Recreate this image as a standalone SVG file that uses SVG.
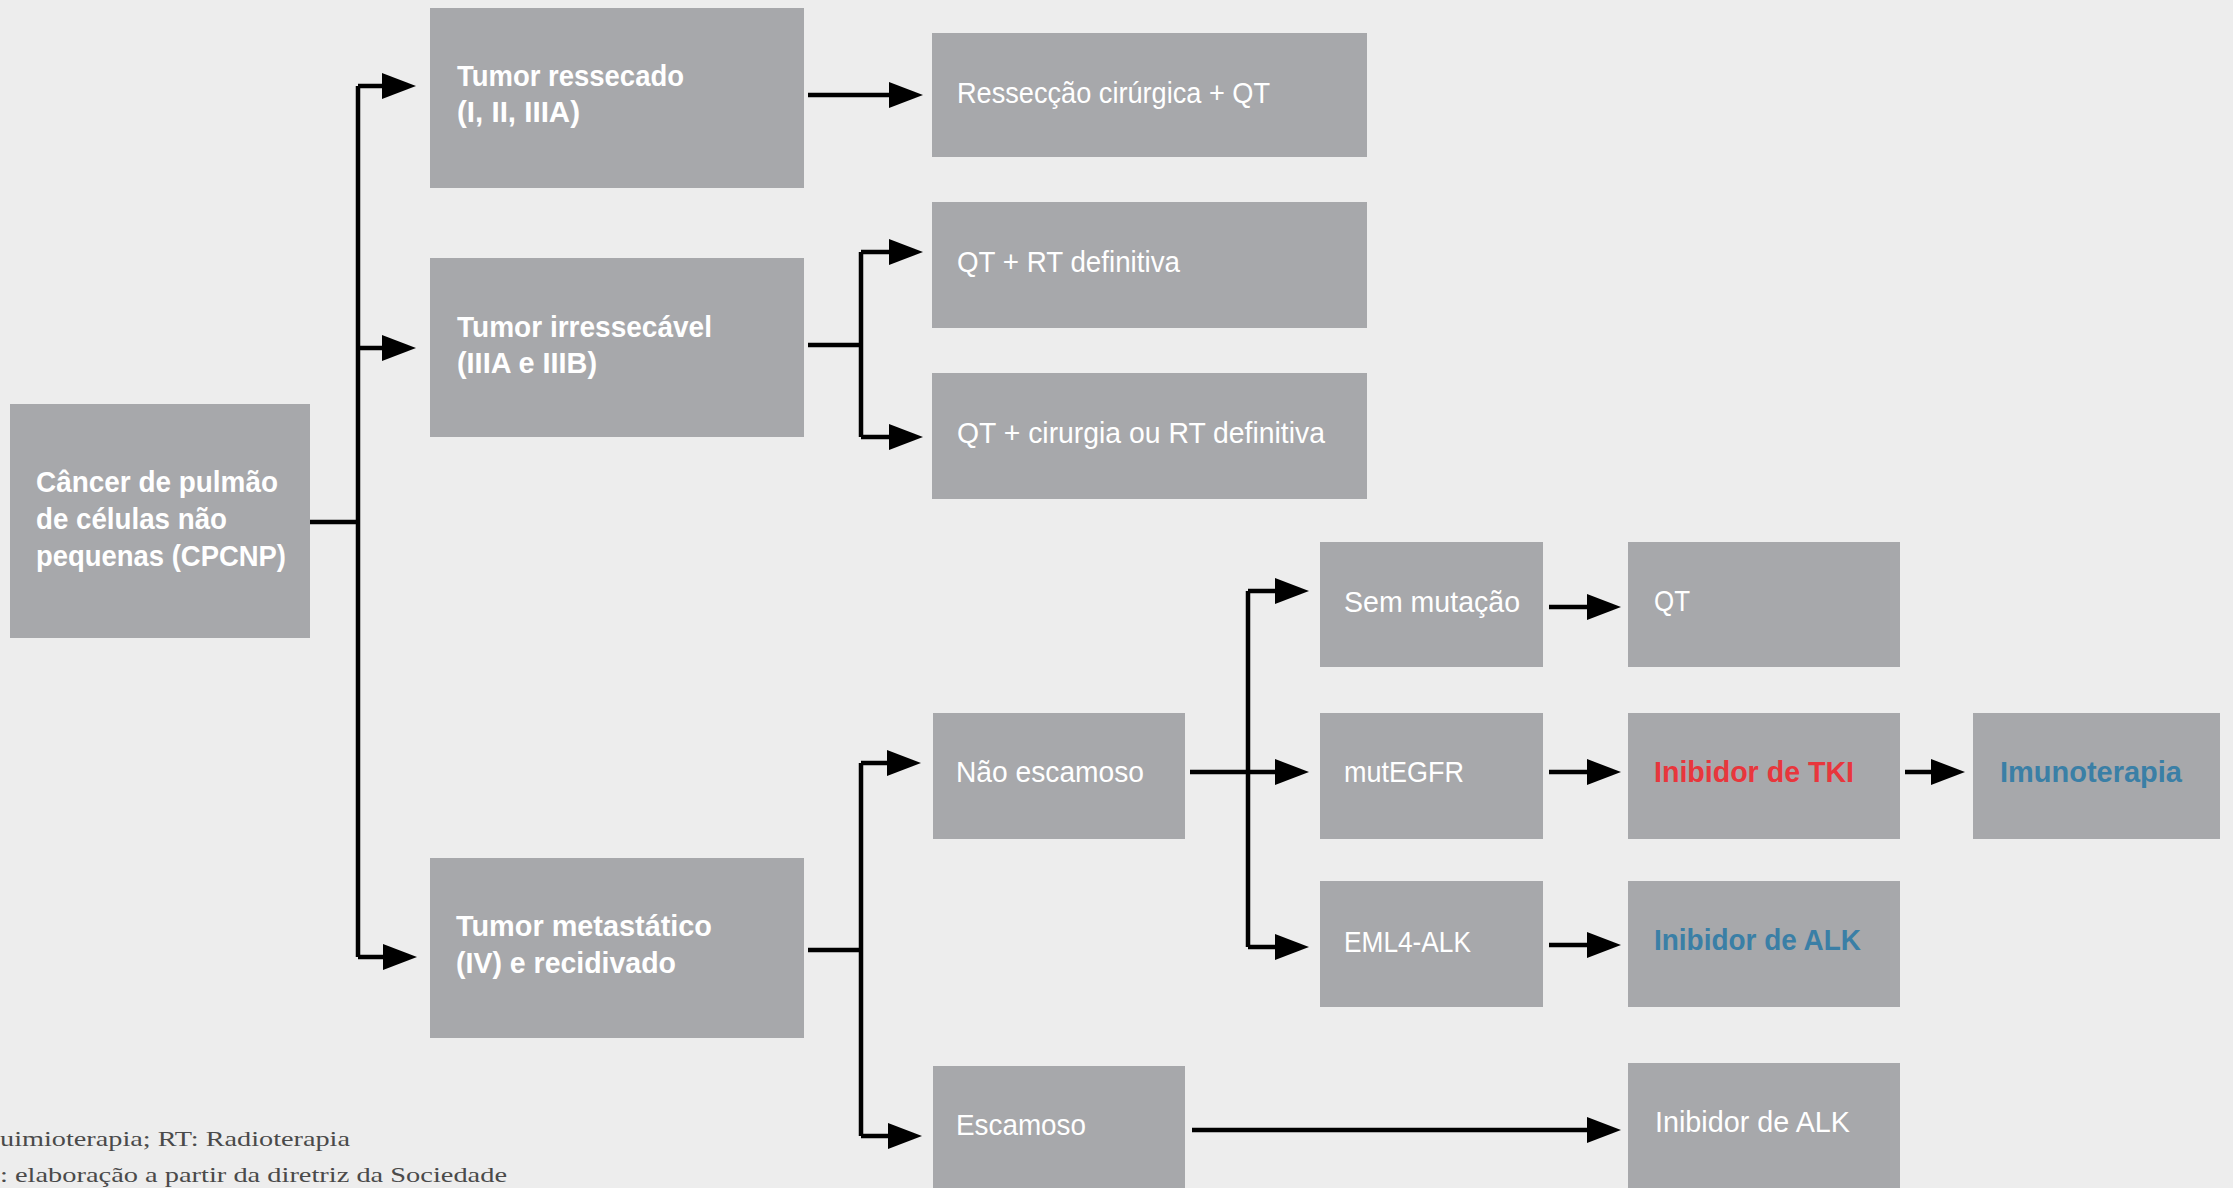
<svg xmlns="http://www.w3.org/2000/svg" width="2233" height="1188" viewBox="0 0 2233 1188">
<style>
.bg{fill:#ededed}
.box{fill:#a7a8ab}
.t{font-family:"Liberation Sans Narrow","Liberation Sans",Arial,sans-serif;font-size:29px;fill:#ffffff}
.b{font-weight:bold}
.red{fill:#e8363c}
.blue{fill:#3a7fa6}
.fn{font-family:"Liberation Serif","Times New Roman",serif;font-size:22px;fill:#4a4a4a}
.c{fill:none;stroke:#000;stroke-width:4.5}
.a{fill:none;stroke:#000;stroke-width:4.5;marker-end:url(#ah)}
</style>
<defs>
<marker id="ah" markerUnits="userSpaceOnUse" markerWidth="34" markerHeight="26" refX="14" refY="13" orient="auto" viewBox="0 0 34 26">
<path d="M0,0 L34,13 L0,26 z" fill="#000"/>
</marker>
</defs>
<rect class="bg" x="0" y="0" width="2233" height="1188"/>

<g id="connectors">
<path class="c" d="M310,522 H358 M358,86 V957"/>
<path class="a" d="M358,86 H396"/>
<path class="a" d="M358,348 H396"/>
<path class="a" d="M358,957 H397"/>
<path class="a" d="M808,95 H903"/>
<path class="c" d="M808,345 H861 M861,252 V437"/>
<path class="a" d="M861,252 H903"/>
<path class="a" d="M861,437 H903"/>
<path class="c" d="M808,950 H861 M861,763 V1136"/>
<path class="a" d="M861,763 H901"/>
<path class="a" d="M861,1136 H902"/>
<path class="c" d="M1190,772 H1248 M1248,591 V947"/>
<path class="a" d="M1248,591 H1289"/>
<path class="a" d="M1248,772 H1289"/>
<path class="a" d="M1248,947 H1289"/>
<path class="a" d="M1549,607 H1601"/>
<path class="a" d="M1549,772 H1601"/>
<path class="a" d="M1549,945 H1601"/>
<path class="a" d="M1905,772 H1945"/>
<path class="a" d="M1192,1130 H1601"/>
</g>

<g id="n-root"><rect class="box" x="10" y="404" width="300" height="234"/>
<text class="t b" x="36" y="492" textLength="242" lengthAdjust="spacingAndGlyphs">Câncer de pulmão</text>
<text class="t b" x="36" y="529" textLength="191" lengthAdjust="spacingAndGlyphs">de células não</text>
<text class="t b" x="36" y="566" textLength="250" lengthAdjust="spacingAndGlyphs">pequenas (CPCNP)</text></g>

<g id="n-ressecado"><rect class="box" x="430" y="8" width="374" height="180"/>
<text class="t b" x="457" y="86" textLength="227" lengthAdjust="spacingAndGlyphs">Tumor ressecado</text>
<text class="t b" x="457" y="122" textLength="123" lengthAdjust="spacingAndGlyphs">(I, II, IIIA)</text></g>

<g id="n-irressecavel"><rect class="box" x="430" y="258" width="374" height="179"/>
<text class="t b" x="457" y="337" textLength="255" lengthAdjust="spacingAndGlyphs">Tumor irressecável</text>
<text class="t b" x="457" y="373" textLength="140" lengthAdjust="spacingAndGlyphs">(IIIA e IIIB)</text></g>

<g id="n-metastatico"><rect class="box" x="430" y="858" width="374" height="180"/>
<text class="t b" x="456" y="936" textLength="256" lengthAdjust="spacingAndGlyphs">Tumor metastático</text>
<text class="t b" x="456" y="973" textLength="220" lengthAdjust="spacingAndGlyphs">(IV) e recidivado</text></g>

<g id="n-resseccao"><rect class="box" x="932" y="33" width="435" height="124"/>
<text class="t" x="957" y="103" textLength="313" lengthAdjust="spacingAndGlyphs">Ressecção cirúrgica + QT</text></g>

<g id="n-qtrt"><rect class="box" x="932" y="202" width="435" height="126"/>
<text class="t" x="957" y="272" textLength="223" lengthAdjust="spacingAndGlyphs">QT + RT definitiva</text></g>

<g id="n-qtcir"><rect class="box" x="932" y="373" width="435" height="126"/>
<text class="t" x="957" y="443" textLength="368" lengthAdjust="spacingAndGlyphs">QT + cirurgia ou RT definitiva</text></g>

<g id="n-naoesc"><rect class="box" x="933" y="713" width="252" height="126"/>
<text class="t" x="956" y="782" textLength="188" lengthAdjust="spacingAndGlyphs">Não escamoso</text></g>

<g id="n-esc"><rect class="box" x="933" y="1066" width="252" height="130"/>
<text class="t" x="956" y="1135" textLength="130" lengthAdjust="spacingAndGlyphs">Escamoso</text></g>

<g id="n-sem"><rect class="box" x="1320" y="542" width="223" height="125"/>
<text class="t" x="1344" y="612" textLength="176" lengthAdjust="spacingAndGlyphs">Sem mutação</text></g>

<g id="n-mut"><rect class="box" x="1320" y="713" width="223" height="126"/>
<text class="t" x="1344" y="782" textLength="120" lengthAdjust="spacingAndGlyphs">mutEGFR</text></g>

<g id="n-eml"><rect class="box" x="1320" y="881" width="223" height="126"/>
<text class="t" x="1344" y="952" textLength="127" lengthAdjust="spacingAndGlyphs">EML4-ALK</text></g>

<g id="n-qt"><rect class="box" x="1628" y="542" width="272" height="125"/>
<text class="t" x="1654" y="611" textLength="36" lengthAdjust="spacingAndGlyphs">QT</text></g>

<g id="n-tki"><rect class="box" x="1628" y="713" width="272" height="126"/>
<text class="t b red" x="1654" y="782" textLength="200" lengthAdjust="spacingAndGlyphs">Inibidor de TKI</text></g>

<g id="n-imuno"><rect class="box" x="1973" y="713" width="247" height="126"/>
<text class="t b blue" x="2000" y="782" textLength="182" lengthAdjust="spacingAndGlyphs">Imunoterapia</text></g>

<g id="n-alk1"><rect class="box" x="1628" y="881" width="272" height="126"/>
<text class="t b blue" x="1654" y="950" textLength="207" lengthAdjust="spacingAndGlyphs">Inibidor de ALK</text></g>

<g id="n-alk2"><rect class="box" x="1628" y="1063" width="272" height="133"/>
<text class="t" x="1655" y="1132" textLength="195" lengthAdjust="spacingAndGlyphs">Inibidor de ALK</text></g>

<g id="footnote">
<text class="fn" x="0" y="1146" textLength="350" lengthAdjust="spacingAndGlyphs">uimioterapia; RT: Radioterapia</text>
<text class="fn" x="0" y="1182" textLength="507" lengthAdjust="spacingAndGlyphs">: elaboração a partir da diretriz da Sociedade</text>
</g>
</svg>
